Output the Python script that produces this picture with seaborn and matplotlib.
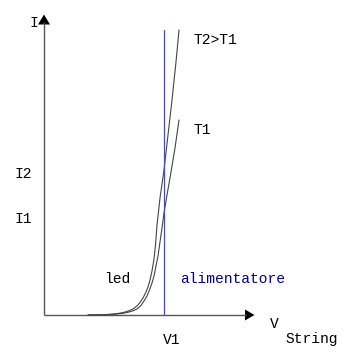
import matplotlib
matplotlib.use("Agg")
import matplotlib.pyplot as plt
import seaborn as sns
import pandas as pd

sns.set_theme(style="white")
plt.rcParams['font.family'] = ['Liberation Mono', 'DejaVu Sans Mono']

# Curve samples (V, I), in picture units (y grows downward)
t2_v = [88, 100, 110, 118, 124, 129, 133, 137, 140, 143, 146, 148, 150, 152, 154, 155.5,
        157, 160, 164, 168, 172, 176, 179]
t2_i = [315, 314.8, 314.3, 313.5, 312.3, 310.8, 309, 306, 302.5, 298, 292, 287, 280, 271, 259, 245,
        225, 198, 170, 135, 100, 62, 30]
t1_v = [88, 104, 114, 122, 128, 133, 137, 141, 144, 147, 149.5, 152, 154, 156, 158, 160,
        162, 164, 167, 170, 175, 179]
t1_i = [315, 314.8, 314.3, 313.5, 312.3, 310.8, 309, 305.5, 301, 296, 290, 283, 276, 266, 256, 242,
        228, 213, 195, 178, 148, 120]
v1 = 164
series_labels = ["T2>T1", "T1"]
axis_labels = ["I", "V", "String"]
tick_labels_y = ["I2", "I1"]
tick_labels_x = ["V1"]
region_labels = ["led", "alimentatore"]

df = pd.concat([
    pd.DataFrame({"V": t2_v, "I": t2_i, "s": series_labels[0]}),
    pd.DataFrame({"V": t1_v, "I": t1_i, "s": series_labels[1]}),
])

fig = plt.figure(figsize=(3.52, 3.61), dpi=100)
ax = fig.add_axes([0, 0, 1, 1])
ax.set_xlim(0, 352)
ax.set_ylim(361, 0)
ax.axis("off")

# axes
x0, y0 = 44, 315
ax.plot([x0, x0], [y0, 22], color="#555555", lw=1.0, solid_capstyle="butt")
ax.plot([x0, 246], [y0, y0], color="#555555", lw=1.0, solid_capstyle="butt")
ax.fill([38, 50, 44], [24.5, 24.5, 14.5], color="black", lw=0)
ax.fill([245, 245, 254.5], [309.5, 320.5, 315], color="black", lw=0)

# curves
sns.lineplot(data=df, x="V", y="I", hue="s", units="s", estimator=None, sort=False,
             palette=["#444444", "#444444"], lw=0.8, legend=False, ax=ax)

# V1 line
ax.plot([v1, v1], [30, y0], color="#4a4ac4", lw=0.9)

fs = 10.5
ax.text(33.5, 23, axis_labels[0], ha="center", va="center", fontsize=fs, color="black")
ax.text(194, 40, series_labels[0], ha="left", va="center", fontsize=fs, color="black")
ax.text(194, 129.5, series_labels[1], ha="left", va="center", fontsize=fs, color="black")
ax.text(14, 173.5, tick_labels_y[0], ha="left", va="center", fontsize=fs, color="black")
ax.text(14, 219, tick_labels_y[1], ha="left", va="center", fontsize=fs, color="black")
ax.text(104, 279, region_labels[0], ha="left", va="center", fontsize=fs, color="black")
ax.text(180, 279, region_labels[1], ha="left", va="center", fontsize=fs, color="#000099")
ax.text(270, 323.5, axis_labels[1], ha="left", va="center", fontsize=fs, color="black")
ax.text(163, 339.5, tick_labels_x[0], ha="left", va="center", fontsize=fs, color="black")
ax.text(285, 339.5, axis_labels[2], ha="left", va="center", fontsize=fs, color="black")

fig.savefig("out.png", dpi=100)
